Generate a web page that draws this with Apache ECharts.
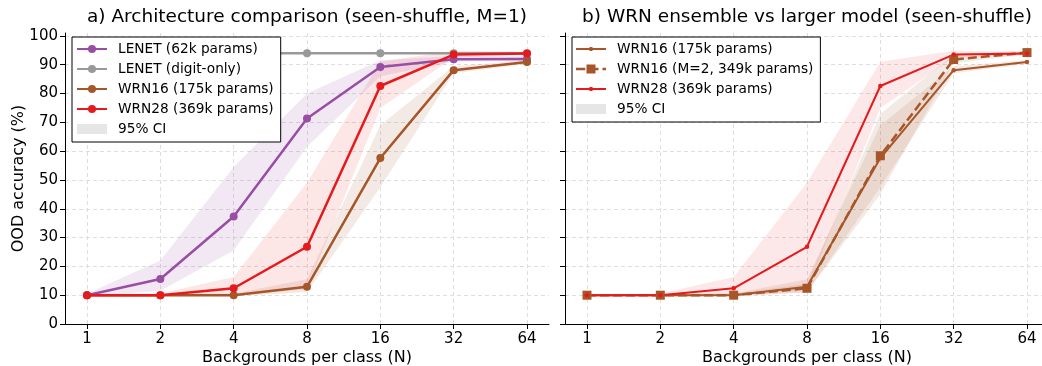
<!DOCTYPE html>
<html>
<head>
<meta charset="utf-8">
<script src="https://cdn.jsdelivr.net/npm/echarts@6/dist/echarts.min.js"></script>
<style>
  html, body { margin: 0; padding: 0; background: #fff; }
  #chart { width: 1042px; height: 366px; }
</style>
</head>
<body>
<div id="chart"></div>
<script>
// backgrounds per class, plotted on a log2 x axis
var bgPerClass = [1, 2, 4, 8, 16, 32, 64];
var xTicks = [0, 1, 2, 3, 4, 5, 6];
var yTicks = [0, 10, 20, 30, 40, 50, 60, 70, 80, 90, 100];

// OOD accuracy (%) and 95% CI bounds
var lenet = [10, 15.6, 37.3, 71.3, 89.2, 91.9, 92.0];
var lenetLo = [9.5, 11.5, 25.5, 61.5, 86, 91, 91.2];
var lenetHi = [10.5, 22, 54.5, 80, 91.5, 93, 93];
var lenetDigit = [94, 94, 94, 94, 94, 94, 94];
var wrn16 = [10, 10, 10, 12.9, 57.6, 88.1, 90.9];
var wrn16Lo = [9.6, 9.6, 9.6, 11, 47.5, 87, 90.2];
var wrn16Hi = [10.4, 10.4, 10.6, 15.5, 69, 89.5, 91.6];
var wrn28 = [10, 10, 12.4, 26.8, 82.6, 93.5, 93.9];
var wrn28Lo = [9.6, 9.8, 10, 12, 75, 92.5, 93.4];
var wrn28Hi = [10.4, 10.6, 16.3, 49, 91, 94.8, 94.5];
var wrn16M2 = [10, 10, 10, 12.4, 58.4, 91.8, 94.2];
var wrn16M2Lo = [9.6, 9.6, 9.6, 11, 45, 90.5, 93.6];
var wrn16M2Hi = [10.4, 10.4, 10.5, 14, 73, 93.5, 94.8];

var PURPLE = '#984ea3', GREY = '#999999', BROWN = '#a65628', RED = '#e41a1c';
var FONT = 'DejaVu Sans';

function pts(vals) {
  return bgPerClass.map(function (n, i) { return [Math.log2(n), vals[i]]; });
}

function band(xi, lo, hi, color) {
  var data = bgPerClass.map(function (n, i) { return [Math.log2(n), lo[i], hi[i]]; });
  return {
    type: 'custom', xAxisIndex: xi, yAxisIndex: xi, silent: true, z: 1,
    data: data, encode: { x: 0, y: [1, 2] },
    renderItem: function (params, api) {
      if (params.dataIndex !== 0) return null;
      var p = [];
      for (var i = 0; i < data.length; i++) p.push(api.coord([data[i][0], data[i][2]]));
      for (var j = data.length - 1; j >= 0; j--) p.push(api.coord([data[j][0], data[j][1]]));
      return { type: 'polygon', shape: { points: p }, style: { fill: color } };
    }
  };
}

function line(name, xi, vals, color, opt) {
  opt = opt || {};
  return {
    type: 'line', name: name, xAxisIndex: xi, yAxisIndex: xi, z: 3,
    data: pts(vals),
    symbol: opt.symbol || 'circle',
    symbolSize: opt.size || 8,
    showSymbol: true,
    itemStyle: { color: color, borderWidth: 0 },
    lineStyle: { color: color, width: opt.width || 2.5, type: opt.dash || 'solid' },
    emphasis: { disabled: true }
  };
}

function xAxis(gi) {
  return {
    type: 'value', gridIndex: gi, min: -0.3, max: 6.3,
    axisLine: { show: true, onZero: false, lineStyle: { color: '#000', width: 1 } },
    axisTick: { show: true, length: 5, customValues: xTicks, lineStyle: { color: '#000' } },
    axisLabel: {
      customValues: xTicks, fontSize: 15, color: '#000', margin: 8, fontFamily: FONT,
      formatter: function (v) { return String(Math.round(Math.pow(2, v))); }
    },
    splitLine: { show: true, lineStyle: { color: '#dedede', type: [4, 3], width: 1 } },
    name: 'Backgrounds per class (N)', nameLocation: 'middle', nameGap: 26, nameMoveOverlap: false,
    nameTextStyle: { fontSize: 16, color: '#000', fontFamily: FONT }
  };
}

function yAxis(gi) {
  return {
    type: 'value', gridIndex: gi, min: 0, max: 101,
    axisLine: { show: true, onZero: false, lineStyle: { color: '#000', width: 1 } },
    axisTick: { show: true, length: 5, customValues: yTicks, lineStyle: { color: '#000' } },
    axisLabel: { show: gi === 0, customValues: yTicks, fontSize: 15, color: '#000', margin: 7, fontFamily: FONT },
    splitLine: { show: true, lineStyle: { color: '#dedede', type: [4, 3], width: 1 } },
    name: gi === 0 ? 'OOD accuracy (%)' : '', nameLocation: 'middle', nameGap: 38, nameMoveOverlap: false,
    nameTextStyle: { fontSize: 16, color: '#000', fontFamily: FONT }
  };
}

var dotIcon = 'path://M0 -1 L30 -1 L30 1 L0 1 Z M13.8 -2 L16.2 -2 L17 -0.8 L17 0.8 L16.2 2 L13.8 2 L13 0.8 L13 -0.8 Z';
var dashSqIcon = 'path://M0 -1.25 L9.25 -1.25 L9.25 1.25 L0 1.25 Z M19.5 -1.25 L22.5 -1.25 L22.5 1.25 L19.5 1.25 Z M26.5 -1.25 L30 -1.25 L30 1.25 L26.5 1.25 Z M10.5 -4.5 L19.5 -4.5 L19.5 4.5 L10.5 4.5 Z';
var ciItem = { name: '95% CI', icon: 'rect', itemStyle: { color: '#e6e6e6' } };

function legend(left, data) {
  return {
    left: left, top: 37, orient: 'vertical', data: data,
    itemWidth: 30, itemHeight: 10, itemGap: 6,
    padding: [5, 7, 6, 4], borderColor: '#000', borderWidth: 1, borderRadius: 0,
    backgroundColor: '#fff', selectedMode: false, z: 10,
    itemStyle: { borderWidth: 0 },
    textStyle: { fontSize: 13.7, color: '#000', fontFamily: FONT, padding: [0, 0, 0, 6] }
  };
}

var chart = echarts.init(document.getElementById('chart'));
chart.setOption({
  animation: false,
  textStyle: { fontFamily: FONT },
  grid: [
    { left: 65, top: 33, width: 484, height: 291, outerBoundsMode: 'none', containLabel: false },
    { left: 565, top: 33, width: 484, height: 291, outerBoundsMode: 'none', containLabel: false }
  ],
  xAxis: [xAxis(0), xAxis(1)],
  yAxis: [yAxis(0), yAxis(1)],
  graphic: [
    { type: 'text', x: 307, y: 17, style: { text: 'a) Architecture comparison (seen-shuffle, M=1)', fontSize: 18.5, fontFamily: FONT, fill: '#000', align: 'center', verticalAlign: 'middle', textAlign: 'center', textVerticalAlign: 'middle' } },
    { type: 'text', x: 807, y: 17, style: { text: 'b) WRN ensemble vs larger model (seen-shuffle)', fontSize: 18.5, fontFamily: FONT, fill: '#000', align: 'center', verticalAlign: 'middle', textAlign: 'center', textVerticalAlign: 'middle' } }
  ],
  legend: [
    legend(72, ['LENET (62k params)', 'LENET (digit-only)', 'WRN16 (175k params)', 'WRN28 (369k params)', ciItem]),
    legend(572, [
      { name: 'WRN16 (175k params)', icon: dotIcon },
      { name: 'WRN16 (M=2, 349k params)', icon: dashSqIcon },
      { name: 'WRN28 (369k params)', icon: dotIcon },
      ciItem
    ])
  ],
  series: [
    band(0, lenetLo, lenetHi, 'rgba(152,78,163,0.13)'),
    band(0, wrn28Lo, wrn28Hi, 'rgba(228,26,28,0.11)'),
    band(0, wrn16Lo, wrn16Hi, 'rgba(166,86,40,0.12)'),
    line('LENET (62k params)', 0, lenet, PURPLE),
    line('LENET (digit-only)', 0, lenetDigit, GREY),
    line('WRN16 (175k params)', 0, wrn16, BROWN),
    line('WRN28 (369k params)', 0, wrn28, RED),
    { type: 'line', name: '95% CI', data: [], xAxisIndex: 0, yAxisIndex: 0, itemStyle: { color: '#e6e6e6' } },

    band(1, wrn28Lo, wrn28Hi, 'rgba(228,26,28,0.10)'),
    band(1, wrn16Lo, wrn16Hi, 'rgba(166,86,40,0.12)'),
    band(1, wrn16M2Lo, wrn16M2Hi, 'rgba(166,86,40,0.12)'),
    line('WRN16 (175k params)', 1, wrn16, BROWN, { size: 4.5, width: 2 }),
    line('WRN16 (M=2, 349k params)', 1, wrn16M2, BROWN, { symbol: 'rect', size: 9, width: 2.5, dash: [9, 4] }),
    line('WRN28 (369k params)', 1, wrn28, RED, { size: 4.5, width: 2 })
  ]
});
</script>
</body>
</html>
